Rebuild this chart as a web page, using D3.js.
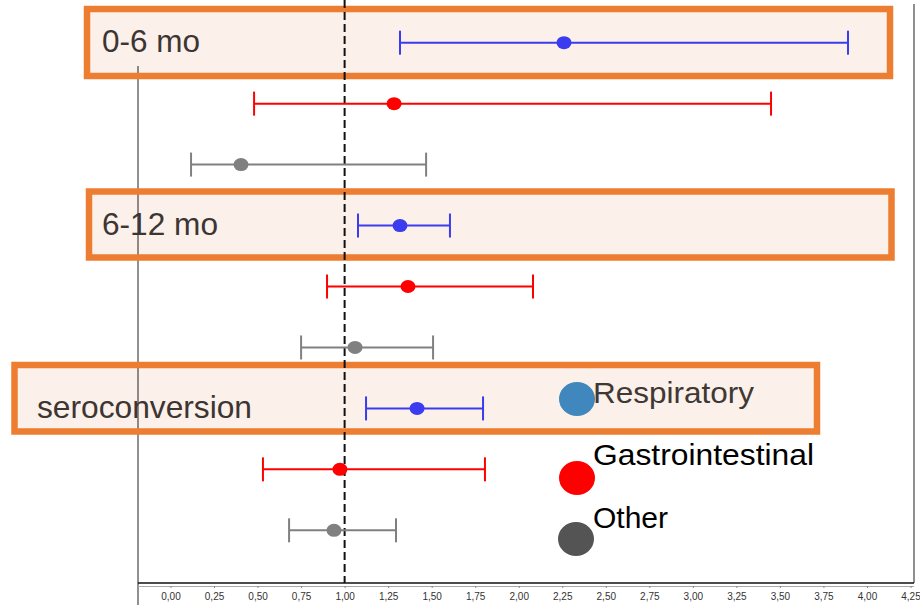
<!DOCTYPE html>
<html>
<head>
<meta charset="utf-8">
<script src="https://cdn.jsdelivr.net/npm/d3@7/dist/d3.min.js"></script>
<style>
  html, body { margin: 0; padding: 0; background: #fff; }
  svg { display: block; }
  text { font-family: "Liberation Sans", Arial, sans-serif; }
</style>
</head>
<body>
<svg id="chart" width="920" height="605"></svg>
<script>
// ---- data ----
const groups = ["0-6 mo", "6-12 mo", "seroconversion"];
const series = ["Respiratory", "Gastrointestinal", "Other"];
const estimates = [
  [2.260, 1.284, 0.405],
  [1.318, 1.364, 1.060],
  [1.416, 0.973, 0.939]
];
const lowerCI = [
  [1.318, 0.480, 0.118],
  [1.077, 0.899, 0.750],
  [1.123, 0.531, 0.681]
];
const upperCI = [
  [3.891, 3.449, 1.468],
  [1.605, 2.082, 1.508],
  [1.795, 1.806, 1.295]
];
const xTicks = [0, 0.25, 0.5, 0.75, 1, 1.25, 1.5, 1.75, 2, 2.25, 2.5, 2.75, 3, 3.25, 3.5, 3.75, 4, 4.25];
const referenceValue = 1;

// ---- style / layout ----
const markColors = ["#3b3bef", "#ff0000", "#808080"];
const legendColors = ["#3f87bd", "#ff0000", "#545454"];
const legendTextColors = ["#403834", "#000000", "#000000"];
const boxStroke = "#ed7d31", boxFill = "#fbf0ea", labelColor = "#3d3531";
const boxLayout = [
  { x0: 87,   x1: 890,   y0: 9,     y1: 76,    tx: 102, ty: 52,  tl: 98,  fs: 32, bg: [16, 68] },
  { x0: 89,   x1: 891.5, y0: 191.5, y1: 257.5, tx: 102, ty: 235, tl: 116, fs: 32, bg: [195, 251] },
  { x0: 14.5, x1: 817,   y0: 365,   y1: 431.5, tx: 37,  ty: 418, tl: 215, fs: 32, bg: [378, 428] }
];

const svg = d3.select("#chart");
const x = d3.scaleLinear().domain([0, 4.25]).range([170.5, 910.5]);
const rows = d3.range(groups.length * series.length);
const y = d3.scaleBand().domain(rows).range([12.2, 560.8]);
const yc = i => y(i) + y.bandwidth() / 2;

// records
const records = [];
groups.forEach((g, gi) => series.forEach((s, si) => {
  records.push({ g, s, gi, si, row: gi * series.length + si,
    est: estimates[gi][si], lo: lowerCI[gi][si], hi: upperCI[gi][si] });
}));

// group boxes: fill
const boxes = svg.append("g");
boxes.selectAll("rect.fill").data(boxLayout).join("rect")
  .attr("class", "fill")
  .attr("x", d => d.x0).attr("y", d => d.y0)
  .attr("width", d => d.x1 - d.x0).attr("height", d => d.y1 - d.y0)
  .attr("fill", boxFill);

// frame lines
svg.append("line").attr("x1", 138).attr("x2", 138).attr("y1", 66).attr("y2", 605)
  .attr("stroke", "#222").attr("stroke-width", 1);
svg.append("line").attr("x1", 914).attr("x2", 914).attr("y1", 4).attr("y2", 583)
  .attr("stroke", "#6a6a6a").attr("stroke-width", 1.5);

// label backgrounds covering frame line
boxes.append("g").selectAll("rect").data(boxLayout).join("rect")
  .attr("x", d => d.x0 + 3).attr("y", d => d.bg[0])
  .attr("width", 80).attr("height", d => d.bg[1] - d.bg[0])
  .attr("fill", boxFill);

// box borders
svg.append("g").selectAll("rect").data(boxLayout).join("rect")
  .attr("x", d => d.x0).attr("y", d => d.y0)
  .attr("width", d => d.x1 - d.x0).attr("height", d => d.y1 - d.y0)
  .attr("fill", "none").attr("stroke", boxStroke).attr("stroke-width", 6.5);

// group labels
svg.append("g").selectAll("text").data(boxLayout).join("text")
  .attr("x", d => d.tx).attr("y", d => d.ty)
  .attr("font-size", d => d.fs)
  .attr("textLength", d => d.tl).attr("lengthAdjust", "spacingAndGlyphs")
  .attr("fill", labelColor)
  .text((d, i) => groups[i]);

// bottom axis frame
svg.append("line").attr("x1", 138).attr("x2", 914).attr("y1", 583).attr("y2", 583)
  .attr("stroke", "#111").attr("stroke-width", 1.5);

const axis = d3.axisBottom(x).tickValues(xTicks).tickSize(2).tickPadding(5)
  .tickFormat(d => d3.format(".2f")(d).replace(".", ","));
const ax = svg.append("g").attr("transform", "translate(0,586)").call(axis);
ax.select(".domain").attr("stroke", "#aaa").attr("d", "M138,0.5H914");
ax.selectAll(".tick line").attr("stroke", "#888");
ax.selectAll(".tick text").attr("font-size", 10).attr("fill", "#333")
  .attr("font-family", "Liberation Sans, Arial, sans-serif");

// reference line
svg.append("line")
  .attr("x1", x(referenceValue)).attr("x2", x(referenceValue))
  .attr("y1", 0).attr("y2", 583)
  .attr("stroke", "#111").attr("stroke-width", 2)
  .attr("stroke-dasharray", "8,4");

// error bars
const marks = svg.append("g");
const capH = 12;
const eg = marks.selectAll("g").data(records).join("g")
  .attr("stroke", d => markColors[d.si]).attr("stroke-width", 2);
eg.append("line")
  .attr("x1", d => x(d.lo)).attr("x2", d => x(d.hi))
  .attr("y1", d => yc(d.row)).attr("y2", d => yc(d.row));
eg.append("line")
  .attr("x1", d => x(d.lo)).attr("x2", d => x(d.lo))
  .attr("y1", d => yc(d.row) - capH).attr("y2", d => yc(d.row) + capH);
eg.append("line")
  .attr("x1", d => x(d.hi)).attr("x2", d => x(d.hi))
  .attr("y1", d => yc(d.row) - capH).attr("y2", d => yc(d.row) + capH);
eg.append("ellipse")
  .attr("cx", d => x(d.est)).attr("cy", d => yc(d.row))
  .attr("rx", 7.5).attr("ry", 6.5)
  .attr("stroke", "none").attr("fill", d => markColors[d.si]);

// legend
const legendPos = [
  { cx: 577, cy: 399, tx: 593, ty: 403, tl: 161 },
  { cx: 577, cy: 478, tx: 593, ty: 465, tl: 221 },
  { cx: 576, cy: 539, tx: 593, ty: 528, tl: 75 }
];
const lg = svg.append("g");
lg.selectAll("ellipse").data(series).join("ellipse")
  .attr("cx", (d, i) => legendPos[i].cx).attr("cy", (d, i) => legendPos[i].cy)
  .attr("rx", 18).attr("ry", 17)
  .attr("fill", (d, i) => legendColors[i]);
lg.selectAll("text").data(series).join("text")
  .attr("x", (d, i) => legendPos[i].tx).attr("y", (d, i) => legendPos[i].ty)
  .attr("font-size", 30)
  .attr("textLength", (d, i) => legendPos[i].tl).attr("lengthAdjust", "spacingAndGlyphs")
  .attr("fill", (d, i) => legendTextColors[i])
  .text(d => d);
</script>
</body>
</html>
